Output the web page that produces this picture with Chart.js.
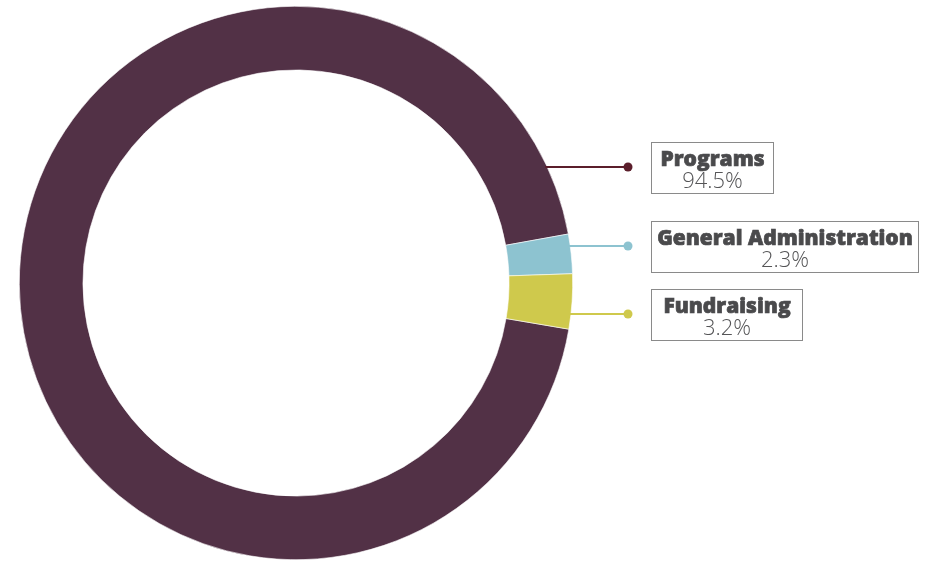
<!DOCTYPE html>
<html>
<head>
<meta charset="utf-8">
<script src="https://cdn.jsdelivr.net/npm/chart.js@4.4.1/dist/chart.umd.min.js"></script>
<style>
  html, body { margin: 0; padding: 0; background: #ffffff; }
  #wrap { width: 932px; height: 561px; position: relative; }
</style>
</head>
<body>
<div id="wrap"><canvas id="c" width="932" height="561"></canvas></div>
<script>
// ---- data ----
const categories = ['Programs', 'General Administration', 'Fundraising'];
const percentages = [94.5, 2.3, 3.2];
const valueLabels = ['94.5%', '2.3%', '3.2%'];

// ---- style ----
const sliceColors = ['#523146', '#8DC3D0', '#CFC94C'];
const leaderColors = ['#5B1E2B', '#8DC3D0', '#CFC94C'];

// ---- callout layout (offset of leader line from ring centre, box widths) ----
const calloutDy = [-116, -37, 31];
const boxWidths = [122, 267, 151];

const callouts = {
  id: 'callouts',
  afterDraw(chart) {
    const ctx = chart.ctx;
    const arc = chart.getDatasetMeta(0).data[0];
    const cx = arc.x, cy = arc.y, R = arc.outerRadius;
    const dotX = cx + 332;
    const boxX = cx + 355;
    const boxH = 51;
    ctx.save();
    categories.forEach((name, i) => {
      const y = cy + calloutDy[i];
      const startX = cx + Math.sqrt(R * R - calloutDy[i] * calloutDy[i]) - 2;
      ctx.strokeStyle = leaderColors[i];
      ctx.lineWidth = 2;
      ctx.beginPath();
      ctx.moveTo(startX, y);
      ctx.lineTo(dotX, y);
      ctx.stroke();
      ctx.fillStyle = leaderColors[i];
      ctx.beginPath();
      ctx.arc(dotX, y, 4.5, 0, Math.PI * 2);
      ctx.fill();
      // box
      const top = y - 25;
      ctx.strokeStyle = '#8a8a8a';
      ctx.lineWidth = 1;
      ctx.strokeRect(Math.round(boxX) + 0.5, Math.round(top) + 0.5, boxWidths[i], boxH);
      const mid = boxX + boxWidths[i] / 2 + 0.5;
      ctx.textAlign = 'center';
      ctx.textBaseline = 'alphabetic';
      ctx.fillStyle = '#4a4a4c';
      ctx.strokeStyle = '#4a4a4c';
      ctx.lineWidth = 0.7;
      ctx.font = '800 21px "Open Sans"';
      ctx.fillText(name, mid, top + 24);
      ctx.strokeText(name, mid, top + 24);
      ctx.fillStyle = '#555557';
      ctx.font = '300 22px "Open Sans"';
      ctx.fillText(valueLabels[i], mid, top + 46);
    });
    ctx.restore();
  }
};

new Chart(document.getElementById('c'), {
  type: 'doughnut',
  data: {
    labels: categories,
    datasets: [{
      data: percentages,
      backgroundColor: sliceColors,
      borderColor: '#ffffff',
      borderWidth: 0.6,
      hoverOffset: 0,
      offset: 0
    }]
  },
  options: {
    responsive: false,
    animation: false,
    rotation: 99.6,
    cutout: '77%',
    layout: { padding: { left: 19, right: 359, top: 6, bottom: 1 } },
    plugins: {
      legend: { display: false },
      tooltip: { enabled: false }
    }
  },
  plugins: [callouts]
});
</script>
</body>
</html>
